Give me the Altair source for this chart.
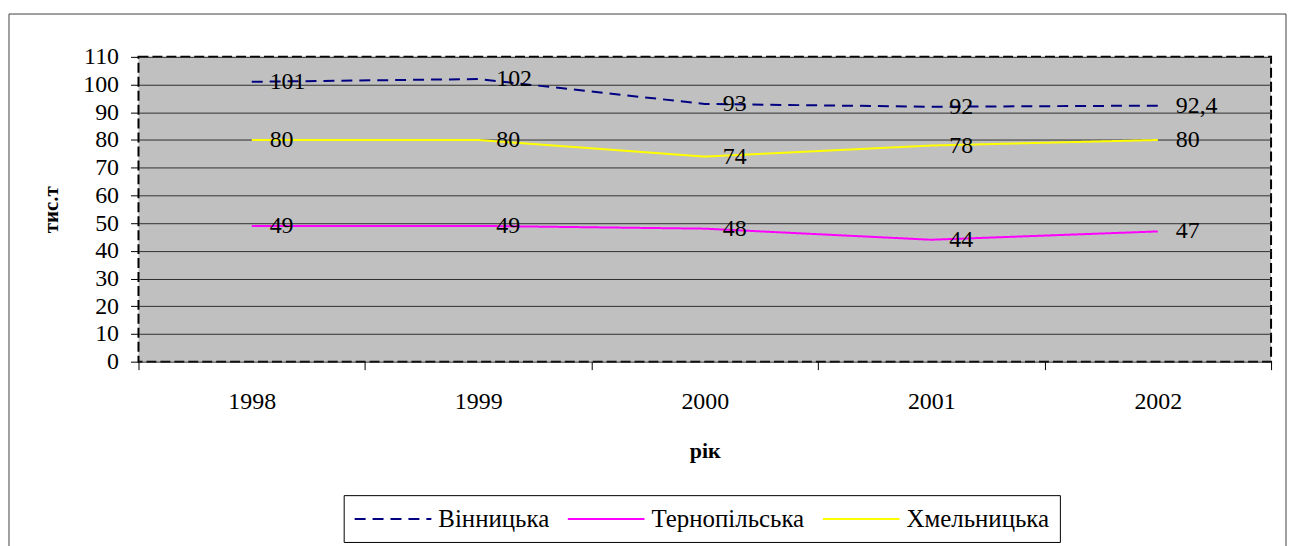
import altair as alt
import pandas as pd

years = ["1998", "1999", "2000", "2001", "2002"]
series = ["Вінницька", "Тернопільська", "Хмельницька"]
vin = [101, 102, 93, 92, 92.4]
ter = [49, 49, 48, 44, 47]
khm = [80, 80, 74, 78, 80]
vin_labels = ["101", "102", "93", "92", "92,4"]
ter_labels = ["49", "49", "48", "44", "47"]
khm_labels = ["80", "80", "74", "78", "80"]
colors = ["#000080", "#FF00FF", "#FFFF00"]
dashes = [[11, 7], [1, 0], [1, 0]]

rows = []
for name, vals, labs in zip(series, [vin, ter, khm], [vin_labels, ter_labels, khm_labels]):
    for y, v, l in zip(years, vals, labs):
        rows.append({"year": y, "series": name, "value": v, "label": l})
df = pd.DataFrame(rows)

FONT = "Liberation Serif"

x_enc = alt.X(
    "year:N",
    scale=alt.Scale(type="band", paddingInner=0, paddingOuter=0),
    bandPosition=0.5,
    axis=alt.Axis(
        title="рік", tickBand="extent", domain=False, grid=False,
        labelAngle=0, labelFont=FONT, labelFontSize=24, labelColor="black",
        labelPadding=20, tickSize=8, tickColor="black",
        titleFont=FONT, titleFontSize=22, titleFontWeight="bold",
        titleColor="black", titlePadding=27,
    ),
)
y_enc = alt.Y(
    "value:Q",
    scale=alt.Scale(domain=[0, 110], nice=False),
    axis=alt.Axis(
        title="тис.т", values=list(range(0, 111, 10)), domain=False,
        grid=True, gridColor="#303030", gridWidth=1,
        labelFont=FONT, labelFontSize=24, labelColor="black", labelPadding=12,
        tickSize=8, tickColor="black",
        titleFont=FONT, titleFontSize=21, titleFontWeight="bold",
        titleColor="black", titlePadding=21,
    ),
)

base = alt.Chart(df)

lines = base.mark_line(strokeWidth=2).encode(
    x=x_enc,
    y=y_enc,
    color=alt.Color("series:N", scale=alt.Scale(domain=series, range=colors), title=None),
    strokeDash=alt.StrokeDash("series:N", scale=alt.Scale(domain=series, range=dashes), title=None),
)

labels = base.mark_text(
    align="left", baseline="middle", dx=18, font=FONT, fontSize=24, color="black"
).encode(x=x_enc, y=y_enc, text="label:N")

frame = alt.Chart(pd.DataFrame({"a": [0]})).mark_rect(
    fillOpacity=0, stroke="#404040", strokeWidth=1
).encode(
    x=alt.value(-130), x2=alt.value(1152), y=alt.value(-43), y2=alt.value(620)
)

chart = alt.layer(frame, lines, labels).properties(
    width=1137,
    height=306,
    autosize=alt.AutoSizeParams(type="none"),
    padding={"left": 131, "top": 48, "right": 16, "bottom": 184},
    background="white",
).configure(
    font=FONT
).configure_view(
    fill="#C0C0C0", stroke="black", strokeDash=[10, 4], strokeWidth=2
).configure_legend(
    orient="none", legendX=206, legendY=440, direction="horizontal", columns=3,
    strokeColor="black", fillColor="white", padding=10, cornerRadius=0,
    symbolType="M-1,0H4.923", symbolSize=676, symbolStrokeWidth=2,
    labelOffset=57, labelFont=FONT, labelFontSize=25, labelColor="black",
    labelLimit=400, columnPadding=14,
)

chart.save("out.html", embed_options={"renderer": "svg", "actions": False})
